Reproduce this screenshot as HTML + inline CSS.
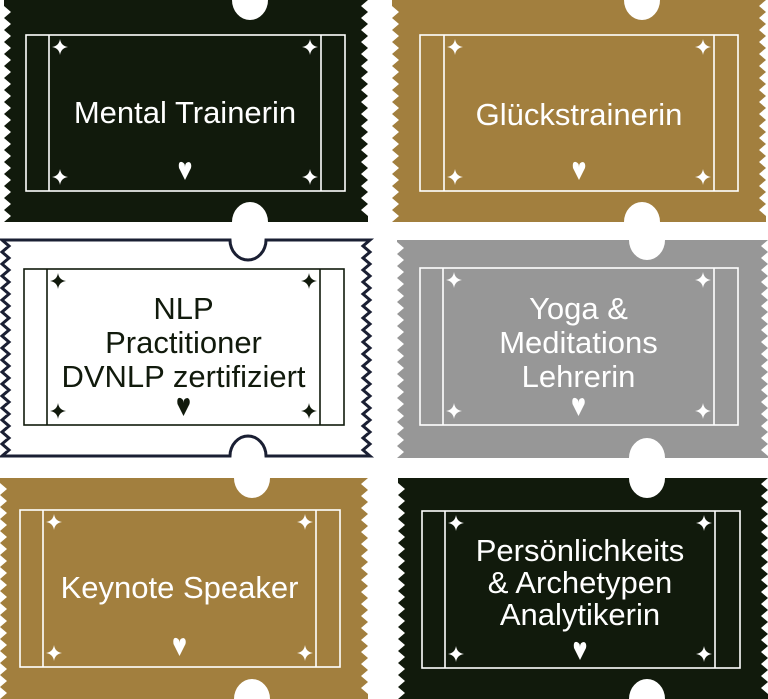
<!DOCTYPE html>
<html><head><meta charset="utf-8"><style>
html,body{margin:0;padding:0;background:#fff;width:768px;height:699px;overflow:hidden}
svg text{font-family:"Liberation Sans",sans-serif;font-size:31px;text-anchor:middle}
</style></head><body>
<svg id="s" width="768" height="699" viewBox="0 0 768 699" xmlns="http://www.w3.org/2000/svg"></svg>
<script>
const T=[
 {x0:4,x1:368,y0:0,y1:222,nx:250,fill:"#111a0c",fc:"#fff",fx0:26,fx1:345,fy0:35,fy1:191,l1:49,l2:321,lines:["Mental Trainerin"],ty:[112],hy:170},
 {x0:392,x1:766,y0:0,y1:222,nx:642,fill:"#a27f3e",fc:"#fff",fx0:420,fx1:738,fy0:35,fy1:191,l1:444,l2:714,lines:["Glückstrainerin"],ty:[114],hy:170},
 {x0:2,x1:370,y0:240,y1:456,nx:248,fill:"#fff",stroke:"#1a1f33",fc:"#111a0c",fx0:24,fx1:344,fy0:269,fy1:425,l1:47,l2:320,lines:["NLP","Practitioner","DVNLP zertifiziert"],ty:[308,342,376],hy:406},
 {x0:397,x1:768,y0:240,y1:458,nx:647,fill:"#979797",fc:"#fff",fx0:420,fx1:738,fy0:268,fy1:425,l1:443,l2:714,lines:["Yoga &","Meditations","Lehrerin"],ty:[308,342,376],hy:406},
 {x0:0,x1:368,y0:478,y1:699,nx:252,fill:"#a27f3e",fc:"#fff",fx0:20,fx1:340,fy0:510,fy1:667,l1:43,l2:316,lines:["Keynote Speaker"],ty:[587],hy:646},
 {x0:398,x1:768,y0:478,y1:699,nx:647,fill:"#111a0c",fc:"#fff",fx0:422,fx1:740,fy0:511,fy1:668,l1:445,l2:715,lines:["Persönlichkeits","& Archetypen","Analytikerin"],ty:[550,582,614],hy:650}
];
const s=document.getElementById('s');let h='';
function spark(x,y,c){return `<path d="M${x} ${y-8}Q${x+1} ${y-1} ${x+8} ${y}Q${x+1} ${y+1} ${x} ${y+8}Q${x-1} ${y+1} ${x-8} ${y}Q${x-1} ${y-1} ${x} ${y-8}Z" fill="${c}"/>`;}
for(const t of T){
 let p=[];const r=18,d=20;
 p.push([t.x0,t.y0]);
 p.push([t.nx-r,t.y0]);
 for(let a=0;a<=16;a++){const th=Math.PI*a/16;p.push([t.nx-r*Math.cos(th),t.y0+d*Math.sin(th)]);}
 p.push([t.x1,t.y0]);
 for(let y=t.y0+6;y<t.y1;y+=12){p.push([t.x1-7,y]);p.push([t.x1,Math.min(y+6,t.y1)]);}
 p.push([t.x1,t.y1]);
 p.push([t.nx+r,t.y1]);
 for(let a=0;a<=16;a++){const th=Math.PI*a/16;p.push([t.nx+r*Math.cos(th),t.y1-d*Math.sin(th)]);}
 p.push([t.x0,t.y1]);
 for(let y=t.y1-6;y>t.y0;y-=12){p.push([t.x0+7,y]);p.push([t.x0,Math.max(y-6,t.y0)]);}
 h+=`<polygon points="${p.map(q=>q[0].toFixed(1)+','+q[1].toFixed(1)).join(' ')}" fill="${t.fill}" ${t.stroke?`stroke="${t.stroke}" stroke-width="3"`:''}/>`;
 const c=t.fc;
 h+=`<rect x="${t.fx0}" y="${t.fy0}" width="${t.fx1-t.fx0}" height="${t.fy1-t.fy0}" fill="none" stroke="${c}" stroke-width="1.6"/>`;
 h+=`<line x1="${t.l1}" y1="${t.fy0}" x2="${t.l1}" y2="${t.fy1}" stroke="${c}" stroke-width="1.6"/><line x1="${t.l2}" y1="${t.fy0}" x2="${t.l2}" y2="${t.fy1}" stroke="${c}" stroke-width="1.6"/>`;
 h+=spark(t.l1+11,t.fy0+12,c)+spark(t.l2-11,t.fy0+12,c)+spark(t.l1+11,t.fy1-14,c)+spark(t.l2-11,t.fy1-14,c);
 const cx=(t.l1+t.l2)/2;
 t.lines.forEach((L,i)=>{h+=`<text x="${cx}" y="${t.ty[i]+11}" fill="${c}">${L.replace('&','&amp;')}</text>`;});
 const hx=cx,hy=t.hy;
 h+=`<path d="M${hx} ${hy+10}L${hx-6} ${hy-2}Q${hx-7} ${hy-9} ${hx-3} ${hy-8}Q${hx} ${hy-7} ${hx} ${hy-3}Q${hx} ${hy-8} ${hx+4} ${hy-8}Q${hx+7} ${hy-7} ${hx+6} ${hy-2}Z" fill="${c}"/>`;
}
s.innerHTML=h;
</script>
</body></html>
